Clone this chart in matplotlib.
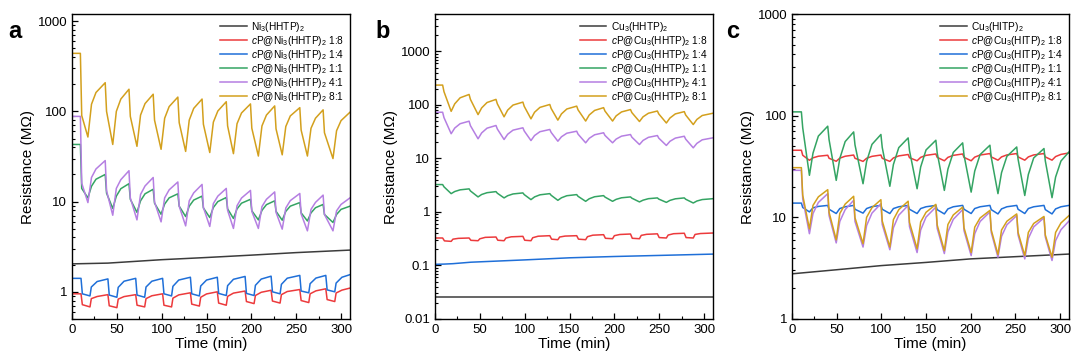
import matplotlib
matplotlib.use("Agg")
import matplotlib.pyplot as plt
from matplotlib.ticker import LogLocator, FuncFormatter, MultipleLocator, NullFormatter

plt.rcParams['font.family'] = ['Liberation Sans', 'DejaVu Sans']
plt.rcParams['mathtext.fontset'] = 'custom'
plt.rcParams['mathtext.rm'] = 'Liberation Sans'
plt.rcParams['mathtext.it'] = 'Liberation Sans:italic'
plt.rcParams['mathtext.bf'] = 'Liberation Sans:bold'

# ---------------- data ----------------
# each cycle: (value before exposure, value just after the fast drop, trough,
#              value early in recovery, value later in recovery)

# panel a : Ni3(HHTP)2 family
a_black_t = [0, 40, 100, 150, 200, 250, 310]
a_black_r = [2.04, 2.08, 2.27, 2.40, 2.55, 2.72, 2.90]
a_drop_fast = [10, 40, 71, 101, 132, 162, 193, 222, 254, 283]
a_trough_fast = [20, 50, 81, 111, 142, 172, 203, 232, 264, 293]
a_drop_slow = [9.3, 37, 63.5, 90.5, 118, 145, 172, 199, 226, 254, 280]
a_trough_slow = [17.7, 45.4, 72.4, 99.3, 126.7, 153.6, 180, 207.8, 234.4, 262.5, 291]
a_red = [(0.95, 0.72, 0.68, 0.84, 0.887), (0.93, 0.70, 0.667, 0.83, 0.885),
         (0.93, 0.71, 0.68, 0.84, 0.904), (0.95, 0.71, 0.68, 0.85, 0.924),
         (0.975, 0.73, 0.695, 0.87, 0.947), (1.0, 0.75, 0.71, 0.89, 0.967),
         (1.02, 0.78, 0.74, 0.91, 0.988), (1.04, 0.79, 0.75, 0.93, 1.007),
         (1.06, 0.80, 0.76, 0.95, 1.025), (1.08, 0.82, 0.78, 0.97, 1.044)]
a_blue = [(1.41, 0.95, 0.90, 1.13, 1.30), (1.39, 0.92, 0.87, 1.12, 1.31),
          (1.41, 0.92, 0.87, 1.13, 1.31), (1.41, 0.95, 0.90, 1.15, 1.35),
          (1.45, 0.95, 0.90, 1.16, 1.35), (1.45, 0.96, 0.91, 1.17, 1.376),
          (1.48, 0.96, 0.91, 1.18, 1.384), (1.49, 1.0, 0.95, 1.21, 1.415),
          (1.52, 1.02, 0.975, 1.23, 1.42), (1.52, 1.05, 1.0, 1.25, 1.45)]
a_green = [(43, 14, 11, 14.8, 17.7), (20, 12.4, 8.4, 11.5, 13.9), (15.8, 10.6, 7.6, 10.2, 12.2),
           (13.7, 9.6, 7.24, 9.4, 11.0), (12.2, 8.9, 6.83, 8.9, 10.4), (11.5, 8.5, 6.66, 8.6, 10.0),
           (11.1, 8.3, 6.5, 8.3, 9.6), (10.6, 7.9, 6.27, 8.0, 9.25), (10.2, 7.8, 6.22, 7.8, 8.9),
           (9.75, 7.5, 6.1, 7.5, 8.55), (9.3, 7.2, 5.87, 7.2, 8.2)]
a_purple = [(88, 16, 9.75, 18.5, 23), (28.5, 13.2, 7.06, 14, 17.5), (22, 11, 6.27, 12, 14.9),
            (18.5, 9.9, 5.96, 11, 13.5), (16.5, 8.9, 5.38, 10.2, 12.5), (15.5, 8.6, 5.3, 9.5, 11.5),
            (14, 8.0, 5.04, 9.0, 10.95), (13.3, 7.8, 5.04, 8.8, 10.6), (12.8, 7.6, 4.95, 8.5, 10.25),
            (12.3, 7.3, 4.74, 8.2, 9.8), (11.8, 7.2, 4.74, 7.9, 9.3)]
a_gold = [(440, 90, 52, 120, 162), (208, 100, 43, 100, 137), (176, 88, 41, 91, 122),
          (155, 80, 38, 84, 113), (144, 75, 36, 80, 108), (137, 72, 35, 76, 101),
          (128, 69, 34, 73, 96), (121, 65, 32, 69, 91), (115, 64, 33, 68, 89),
          (110, 62, 32, 65, 84), (104, 58, 30, 61, 79)]
a_end = [1.10, 1.55, 8.9, 11.0, 98]  # red, blue, green, purple, gold at t = 310

# panel b : Cu3(HHTP)2 family
b_black_t = [0, 310]
b_black_r = [0.026, 0.026]
b_blue_t = [0, 10, 20, 40, 100, 150, 200, 250, 310]
b_blue_r = [0.105, 0.106, 0.108, 0.115, 0.127, 0.139, 0.147, 0.154, 0.163]
b_drop = [8.5, 38, 68, 98, 128, 158, 188, 218, 248, 278]
b_trough = [18, 48, 77, 107, 137, 168, 198, 228, 258, 288]
b_red = [(0.326, 0.288, 0.282, 0.31, 0.321), (0.326, 0.295, 0.29, 0.315, 0.335),
         (0.34, 0.296, 0.29, 0.325, 0.343), (0.35, 0.296, 0.29, 0.33, 0.352),
         (0.36, 0.31, 0.303, 0.34, 0.354), (0.36, 0.31, 0.303, 0.345, 0.368),
         (0.376, 0.322, 0.316, 0.36, 0.379), (0.387, 0.322, 0.316, 0.365, 0.382),
         (0.39, 0.332, 0.326, 0.37, 0.392), (0.40, 0.332, 0.326, 0.38, 0.395)]
b_green = [(3.25, 2.95, 2.2, 2.41, 2.59), (2.7, 2.47, 1.91, 2.12, 2.29), (2.4, 2.24, 1.83, 2.01, 2.17),
           (2.27, 2.11, 1.7, 1.91, 2.09), (2.2, 2.05, 1.65, 1.84, 2.01), (2.11, 1.96, 1.58, 1.765, 1.924),
           (2.02, 1.9, 1.58, 1.72, 1.84), (1.91, 1.81, 1.54, 1.66, 1.77), (1.83, 1.74, 1.51, 1.645, 1.76),
           (1.83, 1.73, 1.47, 1.6, 1.705)]
b_purple = [(73, 58, 29, 37, 44.6), (49.7, 41, 23.3, 30, 36.8), (41.3, 35.5, 22.6, 28.3, 33.8),
            (37.4, 32.6, 21.6, 26.8, 31.6), (34.8, 30.7, 21, 25.4, 29.6), (32.3, 28.5, 19.6, 23.8, 27.7),
            (30.2, 27, 19.6, 23, 26.1), (28, 25, 18.2, 21.7, 24.8), (26.8, 24, 17.5, 20.9, 24.0),
            (26, 23, 15.8, 19.1, 22.3)]
b_gold = [(235, 177, 76, 105, 136), (157, 127, 66, 88, 111), (127, 105, 60, 80, 99.5),
          (113, 94, 55, 73, 90), (102, 86, 52, 68, 84), (95, 81, 50, 65, 79),
          (89, 77, 50, 62.5, 74), (82, 72, 49, 60, 70), (77, 68, 46, 57, 68),
          (75, 65, 43, 53.5, 63.5)]
b_end = [0.404, 1.77, 24.3, 70]  # red, green, purple, gold

# panel c : Cu3(HITP)2 family
c_black_t = [0, 50, 100, 150, 200, 250, 310]
c_black_r = [2.78, 3.05, 3.35, 3.6, 3.9, 4.1, 4.35]
c_drop = [10.5, 40, 69, 99.5, 130, 161, 191, 221.5, 251.5, 282]
c_trough = [19.5, 49.5, 79.5, 109.5, 140, 170.5, 200.5, 230.5, 260.5, 291]
c_red = [(45.7, 40.8, 36.4, 38.5, 39.9), (40.8, 38.1, 35.6, 38.2, 39.9), (41, 38.1, 35.5, 38.1, 39.8),
         (41, 38.1, 35.5, 38.4, 40.2), (41.5, 38.6, 36, 38.9, 40.7), (42, 38.9, 36, 38.9, 40.7),
         (42, 38.9, 36, 39.1, 41.0), (42.4, 39.3, 36.5, 39.3, 41.1), (42.4, 39.3, 36.5, 39.3, 41.1),
         (42.4, 39.3, 36.5, 39.6, 41.6)]
c_blue = [(13.8, 12.5, 11.3, 12.4, 12.8), (13.1, 12, 10.9, 12.2, 12.7), (13.1, 12, 11.0, 12.2, 12.75),
          (13.1, 12, 10.9, 12.2, 12.7), (13.1, 12, 10.9, 12.2, 12.7), (13.1, 11.9, 10.8, 12.1, 12.7),
          (13.1, 12, 10.9, 12.2, 12.7), (13.1, 11.9, 10.8, 12.1, 12.7), (13.1, 12, 10.9, 12.2, 12.7),
          (13.1, 11.9, 10.8, 12.1, 12.7)]
c_green = [(109, 76, 25.9, 42.8, 63), (78.8, 58, 23.1, 37.9, 55.6), (69.2, 51.6, 21.4, 35.4, 52.2),
           (65.3, 48.7, 20.2, 33.1, 48.5), (60.4, 45.3, 19.1, 31.3, 46), (57.3, 43, 18.4, 29.8, 43.5),
           (54, 40.9, 17.7, 28.5, 41.4), (51.2, 38.9, 17.1, 27.5, 39.8), (49.2, 37.4, 16.4, 26.4, 38.4),
           (47.5, 35.9, 15.6, 24.9, 35.8)]
c_purple = [(29, 15.2, 6.9, 10.9, 14.0), (17.1, 10.4, 5.6, 9.1, 11.9), (14.7, 9.1, 5.1, 8.3, 11.0),
            (13.6, 8.5, 4.8, 7.9, 10.5), (13.1, 8.1, 4.5, 7.5, 10.05), (12.6, 7.8, 4.4, 7.2, 9.55),
            (11.9, 7.4, 4.2, 6.9, 9.1), (11.3, 7.1, 4.05, 6.5, 8.45), (10.4, 6.7, 3.9, 6.2, 8.05),
            (9.9, 6.4, 3.76, 5.9, 7.55)]
c_gold = [(30.8, 16.5, 7.7, 13.1, 15.9), (18.7, 11.2, 6.0, 10.9, 13.5), (16.1, 9.9, 5.5, 10, 12.45),
          (14.9, 9.2, 5.1, 9.5, 11.9), (14.4, 8.9, 4.9, 9.0, 11.2), (13.4, 8.4, 4.7, 8.5, 10.55),
          (12.6, 7.9, 4.5, 8.0, 9.85), (11.7, 7.5, 4.3, 7.5, 9.15), (10.8, 7.1, 4.2, 7.1, 8.7),
          (10.2, 6.7, 4.05, 7.1, 8.8)]
c_end = [43, 13.1, 44, 9.2, 10.4]  # red, blue, green, purple, gold

ratios = ['1:8', '1:4', '1:1', '4:1', '8:1']

# ---------------- styling ----------------
COL = {'black': '#3c3c3c', 'red': '#ec3a3c', 'blue': '#1f6fd8',
       'green': '#34a463', 'purple': '#b57fe2', 'gold': '#d3a01d'}
T_END = 310


def cycle_curve(t_drop, t_trough, cycles, end, dt_dip=1.5, dt_knee=4.0, dt_knee2=10.0):
    t = [0.0]
    r = [cycles[0][0]]
    for td, tt, (p, d, lo, k, k2) in zip(t_drop, t_trough, cycles):
        t += [td, td + dt_dip, tt, tt + dt_knee, tt + dt_knee2]
        r += [p, d, lo, k, k2]
    t.append(T_END)
    r.append(end)
    return t, r


def style_axes(ax, ylim, letter, label_x):
    ax.set_yscale('log')
    ax.set_xlim(0, T_END)
    ax.set_ylim(*ylim)
    ax.xaxis.set_major_locator(MultipleLocator(50))
    ax.xaxis.set_minor_locator(MultipleLocator(25))
    ax.yaxis.set_major_locator(LogLocator(base=10, numticks=20))
    ax.yaxis.set_minor_locator(LogLocator(base=10, subs=range(2, 10), numticks=20))
    ax.yaxis.set_major_formatter(FuncFormatter(lambda v, p: '%g' % v))
    ax.yaxis.set_minor_formatter(NullFormatter())
    ax.tick_params(which='both', direction='in', top=False, right=False, labelsize=9.5)
    ax.tick_params(which='major', length=4.5, width=0.9)
    ax.tick_params(which='minor', length=2.5, width=0.8)
    for s in ax.spines.values():
        s.set_linewidth(1.0)
    ax.set_xlabel('Time (min)', fontsize=11, labelpad=1)
    ax.set_ylabel('Resistance (M\u03a9)', fontsize=11, labelpad=2)
    fig.text(label_x, 0.912, letter, fontsize=17, fontweight='bold', ha='left', va='center')
    ax.legend(loc='upper right', frameon=False, fontsize=7.3, handlelength=2.6,
              handletextpad=0.45, labelspacing=0.0, borderaxespad=0.15)


fig = plt.figure(figsize=(10.72, 3.6), dpi=100)
ax_a = fig.add_axes([0.0672, 0.114, 0.2593, 0.847])
ax_b = fig.add_axes([0.4058, 0.114, 0.2593, 0.847])
ax_c = fig.add_axes([0.7388, 0.114, 0.2584, 0.847])
lw = 1.1

# panel a
ax_a.plot(a_black_t, a_black_r, color=COL['black'], lw=lw, label='Ni$_3$(HHTP)$_2$')
series_a = [(a_red, a_drop_fast, a_trough_fast, 1.5, 8.0, 'red'),
            (a_blue, a_drop_fast, a_trough_fast, 1.5, 8.0, 'blue'),
            (a_green, a_drop_slow, a_trough_slow, 4.0, 9.0, 'green'),
            (a_purple, a_drop_slow, a_trough_slow, 4.0, 9.0, 'purple'),
            (a_gold, a_drop_slow, a_trough_slow, 4.0, 9.0, 'gold')]
for (cyc, td, tt, dk, dk2, col), end, ratio in zip(series_a, a_end, ratios):
    t, r = cycle_curve(td, tt, cyc, end, dt_knee=dk, dt_knee2=dk2)
    ax_a.plot(t, r, color=COL[col], lw=lw, label='$c$P@Ni$_3$(HHTP)$_2$ ' + ratio)
style_axes(ax_a, (0.5, 1200), 'a', 0.008)

# panel b
ax_b.plot(b_black_t, b_black_r, color=COL['black'], lw=lw, label='Cu$_3$(HHTP)$_2$')
t, r = cycle_curve(b_drop, b_trough, b_red, b_end[0], dt_dip=2.0, dt_knee=2.0, dt_knee2=8.0)
ax_b.plot(t, r, color=COL['red'], lw=lw, label='$c$P@Cu$_3$(HHTP)$_2$ 1:8')
ax_b.plot(b_blue_t, b_blue_r, color=COL['blue'], lw=lw, label='$c$P@Cu$_3$(HHTP)$_2$ 1:4')
for cyc, end, col, ratio in zip([b_green, b_purple, b_gold], b_end[1:],
                                ['green', 'purple', 'gold'], ratios[2:]):
    t, r = cycle_curve(b_drop, b_trough, cyc, end)
    ax_b.plot(t, r, color=COL[col], lw=lw, label='$c$P@Cu$_3$(HHTP)$_2$ ' + ratio)
style_axes(ax_b, (0.01, 5000), 'b', 0.350)

# panel c
ax_c.plot(c_black_t, c_black_r, color=COL['black'], lw=lw, label='Cu$_3$(HITP)$_2$')
for cyc, end, col, ratio in zip([c_red, c_blue, c_green, c_purple, c_gold], c_end,
                                ['red', 'blue', 'green', 'purple', 'gold'], ratios):
    t, r = cycle_curve(c_drop, c_trough, cyc, end)
    ax_c.plot(t, r, color=COL[col], lw=lw, label='$c$P@Cu$_3$(HITP)$_2$ ' + ratio)
style_axes(ax_c, (1, 1000), 'c', 0.677)

fig.savefig('out.png', dpi=100)
